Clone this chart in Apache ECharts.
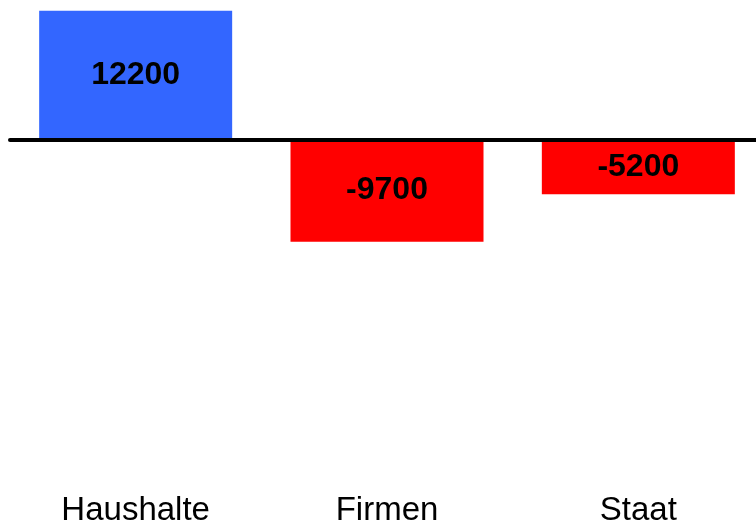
<!DOCTYPE html>
<html>
<head>
<meta charset="utf-8">
<script src="https://cdn.jsdelivr.net/npm/echarts@6/dist/echarts.min.js"></script>
<style>
  html, body { margin: 0; padding: 0; background: #fff; overflow: hidden; }
  #chart { width: 764px; height: 527px; }
</style>
</head>
<body>
<div id="chart"></div>
<script>
  // Sektoren und Salden
  const sectors = ['Haushalte', 'Firmen', 'Staat'];
  const balances = [12200, -9700, -5200];
  const barColors = ['#3366ff', '#ff0000', '#ff0000'];

  const chart = echarts.init(document.getElementById('chart'));
  chart.setOption({
    animation: false,
    grid: { left: 10, right: 0, top: 2.4, height: 478 },
    xAxis: {
      type: 'category',
      data: sectors,
      axisLine: { show: false, onZero: false },
      axisTick: { show: false },
      axisLabel: {
        color: '#000',
        fontSize: 33,
        fontFamily: 'Liberation Sans, Arial, sans-serif',
        margin: 17
      }
    },
    yAxis: {
      type: 'value',
      min: -32000,
      max: 13000,
      show: false,
      splitLine: { show: false }
    },
    series: [
      {
        type: 'bar',
        barWidth: 193,
        data: balances.map((v, i) => ({ value: v, itemStyle: { color: barColors[i] } })),
        label: {
          show: true,
          position: 'inside',
          color: '#000',
          fontSize: 32,
          fontWeight: 'bold',
          fontFamily: 'Liberation Sans, Arial, sans-serif'
        },
        markLine: { // Nulllinie
          silent: true,
          symbol: 'none',
          label: { show: false },
          lineStyle: { color: '#000', width: 4, type: 'solid', cap: 'round' },
          data: [{ yAxis: 0 }]
        }
      }
    ]
  });
</script>
</body>
</html>
